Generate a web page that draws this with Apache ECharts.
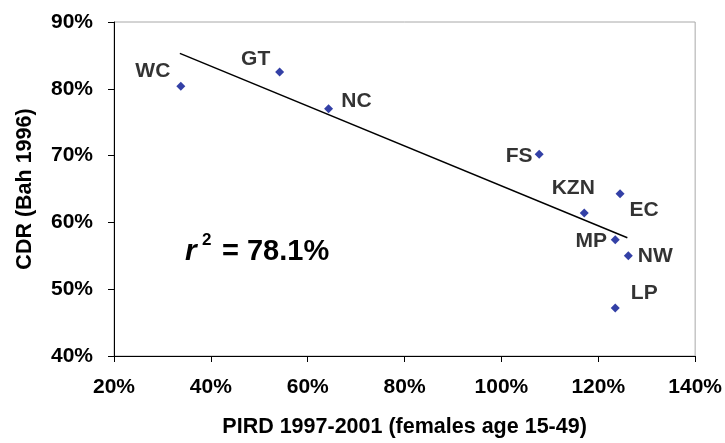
<!DOCTYPE html>
<html>
<head>
<meta charset="utf-8">
<script src="https://cdn.jsdelivr.net/npm/echarts@6/dist/echarts.min.js"></script>
<style>
  html, body { margin: 0; padding: 0; background: #fff; }
  #main { width: 725px; height: 443px; }
</style>
</head>
<body>
<div id="main"></div>
<script>
// provinces, PIRD 1997-2001 (x, %) and CDR Bah 1996 (y, %)
var provinces = ['WC', 'GT', 'NC', 'FS', 'KZN', 'EC', 'MP', 'NW', 'LP'];
var pird = [33.8, 54.2, 64.3, 107.8, 117.1, 124.5, 123.5, 126.2, 123.5];
var cdr = [80.4, 82.5, 77.0, 70.2, 61.4, 64.3, 57.4, 55.0, 47.2];

// fitted line end points
var trendX = [33.6, 126.0];
var trendY = [85.3, 57.7];

var xTicks = { min: 20, max: 140, step: 20 };
var yTicks = { min: 40, max: 90, step: 10 };
var rSquared = '78.1%';

// where each label sits relative to its marker
var labelOffsets = {
  WC: [-28, -15], GT: [-24, -13], NC: [28, -8], FS: [-20, 2], KZN: [-11, -25],
  EC: [24, 17], MP: [-24, 1], NW: [27, 0], LP: [29, -15]
};

var FONT = "'Liberation Sans', Arial, sans-serif";

var chart = echarts.init(document.getElementById('main'));

var points = provinces.map(function (p, i) {
  return {
    name: p,
    value: [pird[i], cdr[i]],
    label: { offset: labelOffsets[p] }
  };
});

var option = {
  animation: false,
  grid: {
    left: 114, right: 28, top: 22, bottom: 86,
    show: true, borderColor: '#a8a8a8', borderWidth: 1, backgroundColor: '#fff'
  },
  xAxis: {
    type: 'value',
    min: xTicks.min, max: xTicks.max, interval: xTicks.step,
    name: 'PIRD 1997-2001 (females age 15-49)',
    nameLocation: 'middle', nameGap: 60,
    nameTextStyle: { fontFamily: FONT, fontWeight: 'bold', fontSize: 21.5, color: '#000' },
    axisLine: { show: true, lineStyle: { color: '#000', width: 1 } },
    axisTick: { show: true, length: 6, lineStyle: { color: '#000' } },
    axisLabel: {
      margin: 21, fontFamily: FONT, fontWeight: 'bold', fontSize: 21, color: '#000',
      formatter: '{value}%'
    },
    splitLine: { show: false }
  },
  yAxis: {
    type: 'value',
    min: yTicks.min, max: yTicks.max, interval: yTicks.step,
    name: 'CDR (Bah 1996)',
    nameLocation: 'middle', nameGap: 78,
    nameTextStyle: { fontFamily: FONT, fontWeight: 'bold', fontSize: 21.5, color: '#000' },
    axisLine: { show: true, lineStyle: { color: '#000', width: 1 } },
    axisTick: { show: true, length: 6, lineStyle: { color: '#000' } },
    axisLabel: {
      margin: 21, fontFamily: FONT, fontWeight: 'bold', fontSize: 21, color: '#000',
      formatter: '{value}%'
    },
    splitLine: { show: false }
  },
  series: [
    {
      type: 'line',
      data: trendX.map(function (x, i) { return [x, trendY[i]]; }),
      symbol: 'none',
      lineStyle: { color: '#000', width: 1.5 },
      z: 2
    },
    {
      type: 'scatter',
      data: points,
      symbol: 'diamond',
      symbolSize: 9,
      itemStyle: { color: '#001090' },
      label: {
        show: true, position: 'inside', formatter: '{b}',
        fontFamily: FONT, fontWeight: 'bold', fontSize: 21, color: '#000'
      },
      z: 3
    }
  ],
  graphic: [
    {
      type: 'group', left: 185, top: 232,
      children: [
        { type: 'text', x: 0, y: 21, style: { text: 'r', font: 'italic bold 30px ' + FONT, fill: '#000', verticalAlign: 'middle' } },
        { type: 'text', x: 17, y: 10, style: { text: '2', font: 'bold 17px ' + FONT, fill: '#000', verticalAlign: 'middle' } },
        { type: 'text', x: 37, y: 21, style: { text: '= ' + rSquared, font: 'bold 29px ' + FONT, fill: '#000', verticalAlign: 'middle' } }
      ]
    }
  ]
};

chart.setOption(option);
</script>
</body>
</html>
